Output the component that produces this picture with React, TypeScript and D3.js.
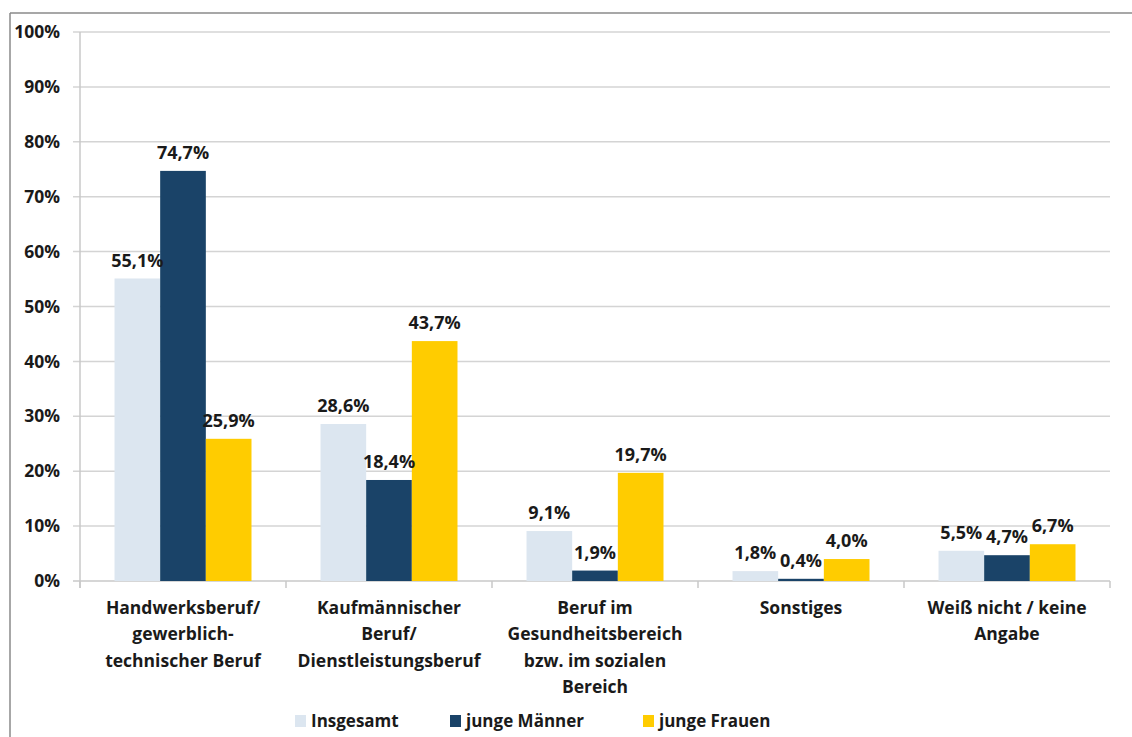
import React from "react";
import * as d3 from "d3";

const categories: string[][] = [
  ["Handwerksberuf/", "gewerblich-", "technischer Beruf"],
  ["Kaufmännischer", "Beruf/", "Dienstleistungsberuf"],
  ["Beruf im", "Gesundheitsbereich", "bzw. im sozialen", "Bereich"],
  ["Sonstiges"],
  ["Weiß nicht / keine", "Angabe"],
];
const seriesNames = ["Insgesamt", "junge Männer", "junge Frauen"];
const insgesamt = [55.1, 28.6, 9.1, 1.8, 5.5];
const jungeMaenner = [74.7, 18.4, 1.9, 0.4, 4.7];
const jungeFrauen = [25.9, 43.7, 19.7, 4.0, 6.7];
const yTicks = [0, 10, 20, 30, 40, 50, 60, 70, 80, 90, 100];
const colors = ["#dce6f0", "#1a4368", "#ffcc00"];

const W = 1132;
const H = 737;
const left = 80;
const right = 1110;
const top = 32;
const bottom = 581;
const FONT = "'Open Sans', 'Noto Sans', sans-serif";

export default function App() {
  const series = [insgesamt, jungeMaenner, jungeFrauen];
  const catIdx = categories.map((_, i) => i);
  const x0 = d3.scaleBand<number>().domain(catIdx).range([left, right]).paddingInner(0.335).paddingOuter(0.1675);
  const x1 = d3.scaleBand<number>().domain([0, 1, 2]).range([0, x0.bandwidth()]).padding(0);
  const y = d3.scaleLinear().domain([0, 100]).range([bottom, top]);
  const step = x0.step();
  const fmt = (v: number) => d3.format(".1f")(v).replace(".", ",") + "%";
  const boundaries = d3.range(categories.length + 1).map((i) => left + i * step);
  const legendX = [295, 450, 643];

  return (
    <svg width={W} height={H} style={{ position: "absolute", left: 0, top: 0, background: "#fff" }} fontFamily={FONT}>
      <rect x={0} y={0} width={W} height={H} fill="#fff" />
      {/* frame */}
      <line x1={10} y1={13} x2={W} y2={13} stroke="#8a8a8a" strokeWidth={1.5} />
      <line x1={10} y1={13} x2={10} y2={H} stroke="#8a8a8a" strokeWidth={1.5} />
      {/* grid */}
      {yTicks.map((t) => (
        <g key={t}>
          <line x1={73} x2={right} y1={y(t)} y2={y(t)} stroke={t === 0 ? "#c8c8c8" : "#d4d4d4"} strokeWidth={1.5} />
          <text x={60} y={y(t)} dy="0.35em" textAnchor="end" fontSize={17.5} fontWeight={700} fill="#1a1a1a">
            {t + "%"}
          </text>
        </g>
      ))}
      <line x1={left} x2={left} y1={top} y2={bottom + 7} stroke="#c8c8c8" strokeWidth={1.5} />
      {boundaries.map((b, i) => (
        <line key={i} x1={b} x2={b} y1={bottom} y2={bottom + 7} stroke="#c8c8c8" strokeWidth={1.5} />
      ))}
      {/* bars */}
      {catIdx.map((ci) => (
        <g key={ci} transform={`translate(${x0(ci)},0)`}>
          {series.map((s, si) => (
            <rect key={si} x={x1(si)} y={y(s[ci])} width={x1.bandwidth()} height={bottom - y(s[ci])} fill={colors[si]} />
          ))}
          {series.map((s, si) => (
            <text
              key={"l" + si}
              x={(x1(si) as number) + x1.bandwidth() / 2}
              y={y(s[ci]) - 12}
              textAnchor="middle"
              fontSize={18}
              fontWeight={700}
              fill="#1a1a1a"
            >
              {fmt(s[ci])}
            </text>
          ))}
        </g>
      ))}
      {/* category labels */}
      {categories.map((lines, ci) => (
        <text key={ci} x={(x0(ci) as number) + x0.bandwidth() / 2} y={614} textAnchor="middle" fontSize={17.5} fontWeight={700} fill="#1a1a1a">
          {lines.map((l, li) => (
            <tspan key={li} x={(x0(ci) as number) + x0.bandwidth() / 2} dy={li === 0 ? 0 : 26.3}>
              {l}
            </tspan>
          ))}
        </text>
      ))}
      {/* legend */}
      {seriesNames.map((n, i) => (
        <g key={n}>
          <rect x={legendX[i]} y={715} width={11} height={12} fill={colors[i]} />
          <text x={legendX[i] + 16} y={727} fontSize={17} fontWeight={700} fill="#1a1a1a">
            {n}
          </text>
        </g>
      ))}
    </svg>
  );
}
